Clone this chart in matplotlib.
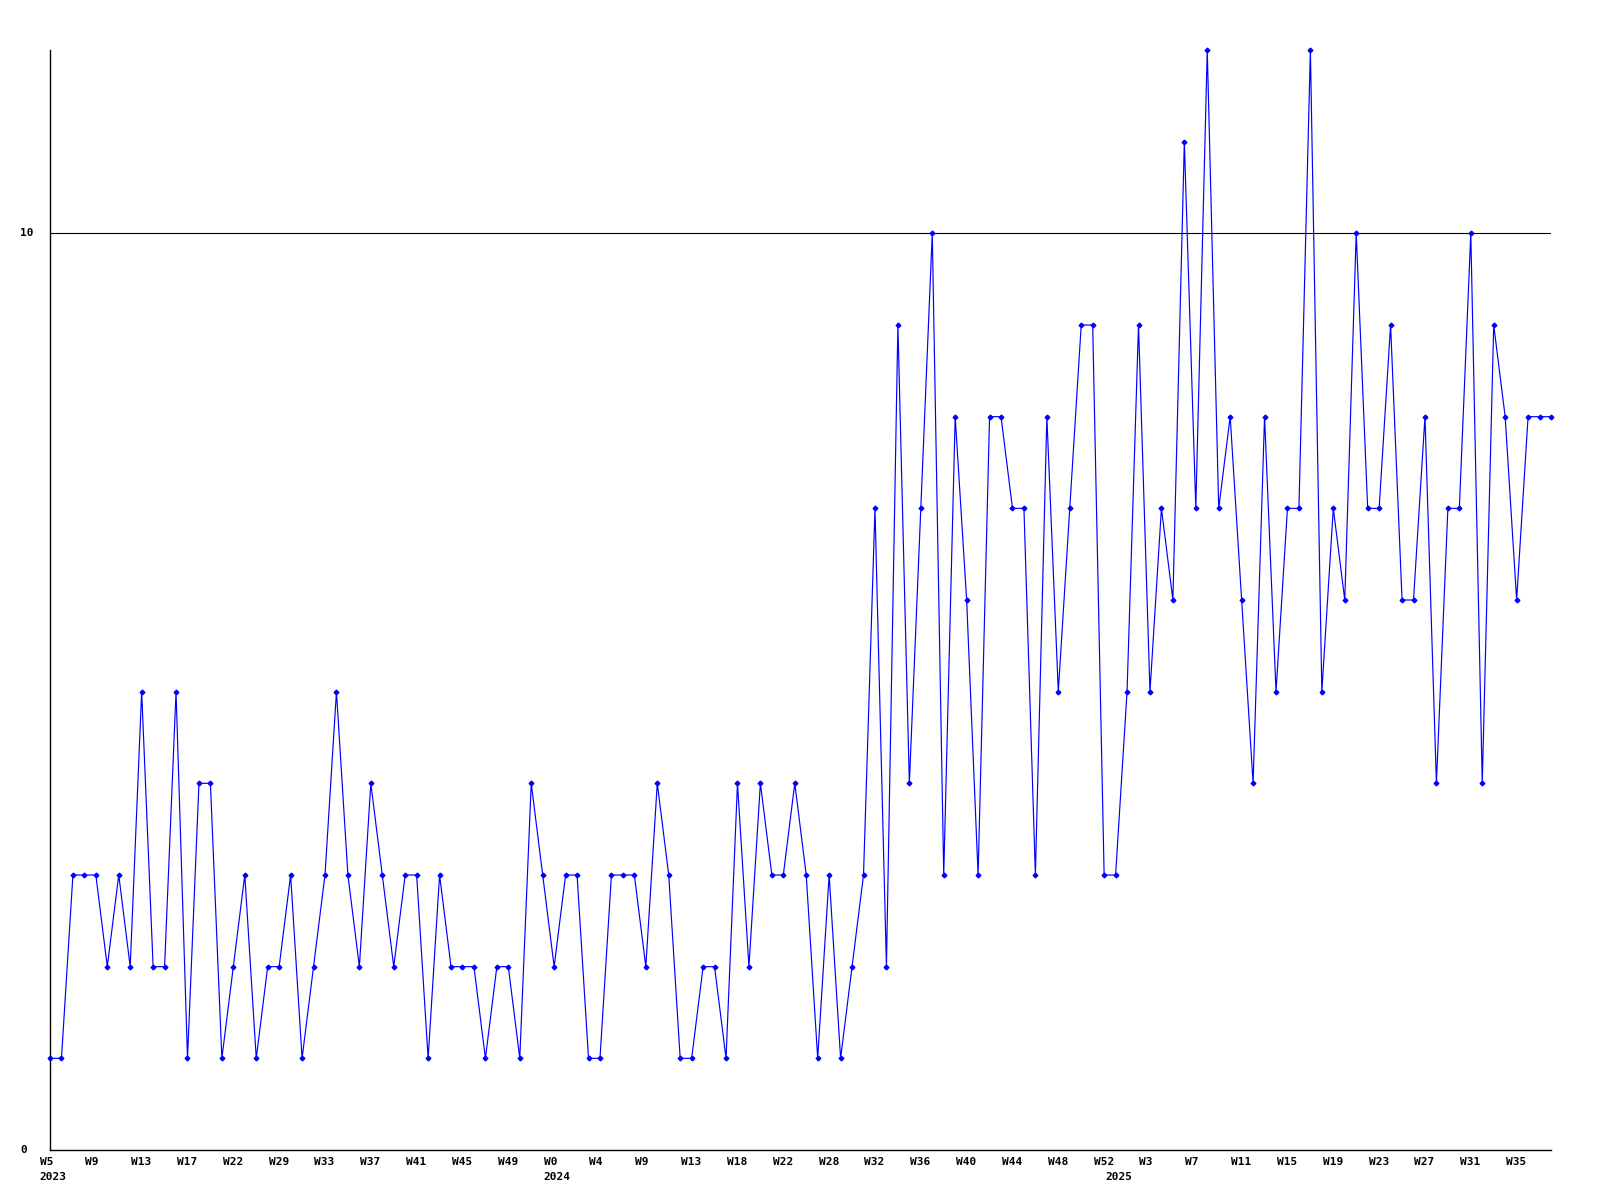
import matplotlib
matplotlib.use("Agg")
import matplotlib.pyplot as plt
from matplotlib.transforms import offset_copy, blended_transform_factory

# weekly counts, one point per index
values = [1, 1, 3, 3, 3, 2, 3, 2, 5, 2, 2, 5, 1, 4, 4, 1, 2, 3, 1, 2,
          2, 3, 1, 2, 3, 5, 3, 2, 4, 3, 2, 3, 3, 1, 3, 2, 2, 2, 1, 2,
          2, 1, 4, 3, 2, 3, 3, 1, 1, 3, 3, 3, 2, 4, 3, 1, 1, 2, 2, 1,
          4, 2, 4, 3, 3, 4, 3, 1, 3, 1, 2, 3, 7, 2, 9, 4, 7, 10, 3, 8,
          6, 3, 8, 8, 7, 7, 3, 8, 5, 7, 9, 9, 3, 3, 5, 9, 5, 7, 6, 11,
          7, 12, 7, 8, 6, 4, 8, 5, 7, 7, 12, 5, 7, 6, 10, 7, 7, 9, 6, 6,
          8, 4, 7, 7, 10, 4, 9, 8, 6, 8, 8, 8]

week_labels = ["W5", "W9", "W13", "W17", "W22", "W29", "W33", "W37", "W41",
               "W45", "W49", "W0", "W4", "W9", "W13", "W18", "W22", "W28",
               "W32", "W36", "W40", "W44", "W48", "W52", "W3", "W7", "W11",
               "W15", "W19", "W23", "W27", "W31", "W35"]
week_step = 4
years = ["2023", "2024", "2025"]
year_idx = [0, 44, 93]
ytick_vals = [0, 10]

fig = plt.figure(figsize=(16, 12), dpi=100)
ax = fig.add_axes([50 / 1600, 50 / 1200, 1501 / 1600, 1100 / 1200])

x = list(range(len(values)))
ax.plot(x, values, color="#0000ff", lw=0.85, marker="D", ms=2.4,
        mfc="#0000ff", mec="#0000ff", clip_on=False, zorder=3)
ax.axhline(10, color="black", lw=0.8, zorder=2)

ax.set_xlim(0, len(values) - 1)
ax.set_ylim(0, 12)

for s in ["top", "right"]:
    ax.spines[s].set_visible(False)
for s in ["left", "bottom"]:
    ax.spines[s].set_linewidth(1.0)
    ax.spines[s].set_color("black")

ax.set_xticks([])
ax.set_yticks([])

font = dict(family="DejaVu Sans Mono", fontweight="bold", fontsize=8)

# week labels, left aligned a bit before their point
wk_tr = offset_copy(ax.get_xaxis_transform(), fig=fig, x=-10.5, y=-7, units="dots")
for i, lab in enumerate(week_labels):
    ax.text(i * week_step, 0, lab, ha="left", va="top", transform=wk_tr, **font)

yr_tr = offset_copy(ax.get_xaxis_transform(), fig=fig, x=-10.5, y=-22, units="dots")
for yr, i in zip(years, year_idx):
    ax.text(i, 0, yr, ha="left", va="top", transform=yr_tr, **font)

# y labels, left aligned near the figure edge
y_tr = blended_transform_factory(fig.transFigure, ax.transData)
for v in ytick_vals:
    ax.text(20 / 1600, v, str(v), ha="left", va="center", transform=y_tr, **font)

fig.savefig("out.png", dpi=100, facecolor="white")
